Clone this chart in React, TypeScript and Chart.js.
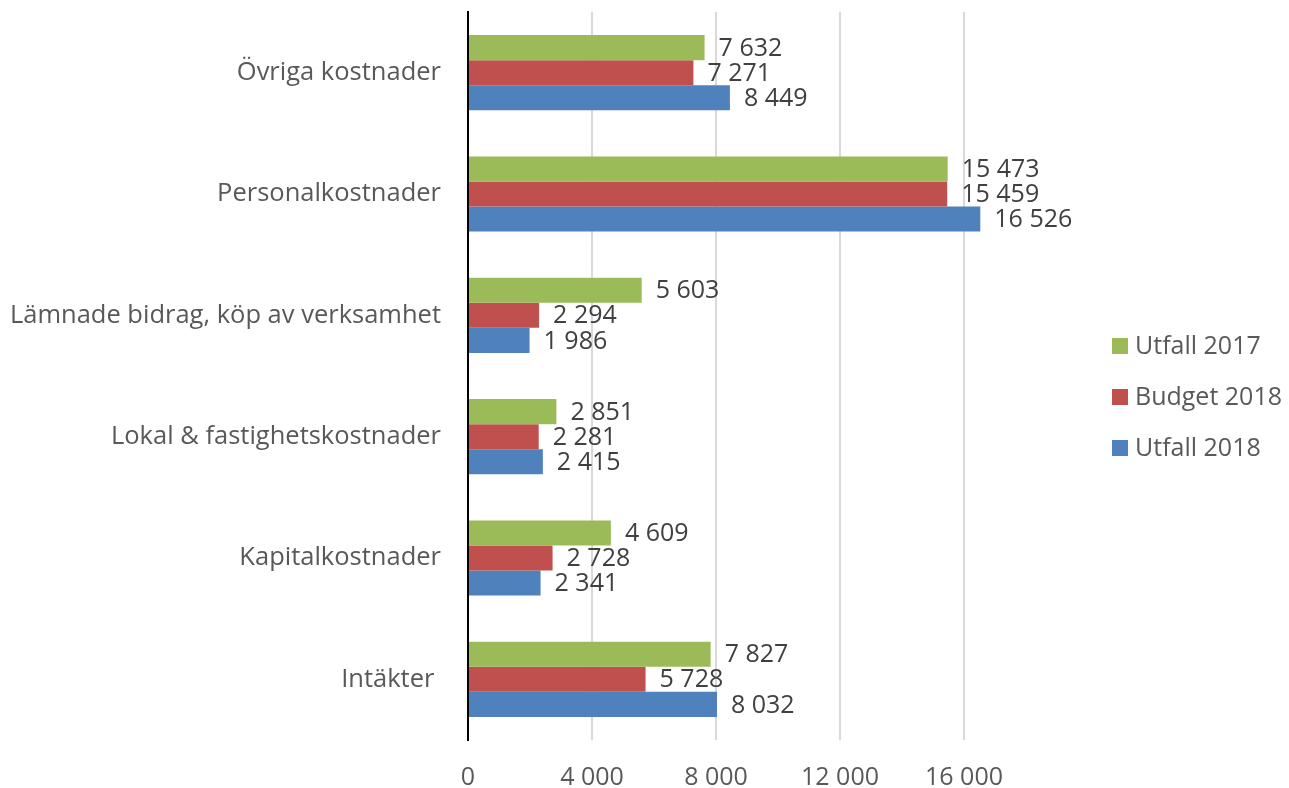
import React, { useEffect, useRef } from "react";
import { Chart, registerables } from "chart.js";

Chart.register(...registerables);

const categories = [
  "Övriga kostnader",
  "Personalkostnader",
  "Lämnade bidrag, köp av verksamhet",
  "Lokal & fastighetskostnader",
  "Kapitalkostnader",
  "Intäkter ",
];
const utfall2017 = [7632, 15473, 5603, 2851, 4609, 7827];
const budget2018 = [7271, 15459, 2294, 2281, 2728, 5728];
const utfall2018 = [8449, 16526, 1986, 2415, 2341, 8032];
const seriesNames = ["Utfall 2017", "Budget 2018", "Utfall 2018"];
const seriesColors = ["#9BBB59", "#C0504D", "#4F81BD"];
const xTicks = [0, 4000, 8000, 12000, 16000];

const FONT = "'Open Sans', sans-serif";
const FS = 25;

const fmt = (n: number) => String(n).replace(/\B(?=(\d{3})+(?!\d))/g, " ");

const dataLabels = {
  id: "dataLabels",
  afterDatasetsDraw(chart: any) {
    const ctx = chart.ctx;
    ctx.save();
    ctx.font = `${FS}px ${FONT}`;
    ctx.fillStyle = "#404040";
    ctx.textAlign = "left";
    ctx.textBaseline = "middle";
    chart.data.datasets.forEach((ds: any, i: number) => {
      const meta = chart.getDatasetMeta(i);
      meta.data.forEach((bar: any, j: number) => {
        ctx.fillText(fmt(ds.data[j]), bar.x + 14, bar.y + 1);
      });
    });
    ctx.restore();
  },
};

const customLegend = {
  id: "customLegend",
  afterDraw(chart: any) {
    const ctx = chart.ctx;
    ctx.save();
    ctx.font = `${FS}px ${FONT}`;
    ctx.textAlign = "left";
    ctx.textBaseline = "middle";
    const x = 1112;
    const y0 = 346;
    const gap = 51;
    chart.data.datasets.forEach((ds: any, i: number) => {
      const y = y0 + i * gap;
      ctx.fillStyle = ds.backgroundColor;
      ctx.fillRect(x, y - 8, 16, 16);
      ctx.fillStyle = "#595959";
      ctx.fillText(ds.label, x + 23, y + 1);
    });
    ctx.restore();
  },
};

export default function App() {
  const ref = useRef<HTMLCanvasElement>(null);
  useEffect(() => {
    if (!ref.current) return;
    const chart = new Chart(ref.current, {
      type: "bar",
      data: {
        labels: categories,
        datasets: [utfall2017, budget2018, utfall2018].map((d, i) => ({
          label: seriesNames[i],
          data: d,
          backgroundColor: seriesColors[i],
          borderWidth: 0,
          categoryPercentage: 0.62,
          barPercentage: 1,
        })),
      },
      options: {
        indexAxis: "y",
        animation: false,
        responsive: false,
        layout: { padding: { top: 12, right: 263, left: 0, bottom: 0 } },
        plugins: { legend: { display: false }, tooltip: { enabled: false } },
        scales: {
          x: {
            min: 0,
            max: 18000,
            afterBuildTicks: (scale: any) => {
              scale.ticks = xTicks.map((v) => ({ value: v }));
            },
            afterFit: (scale: any) => {
              scale.height = 48;
              scale.paddingLeft = 0;
              scale.paddingRight = 0;
            },
            grid: {
              color: (c: any) => (c.tick && c.tick.value === 0 ? "rgba(0,0,0,0)" : "#D9D9D9"),
              lineWidth: 2,
              drawTicks: false,
            },
            border: { display: false },
            ticks: {
              color: "#595959",
              font: { size: FS, family: FONT },
              padding: 23,
              callback: (v: any) => fmt(Number(v)),
            },
          },
          y: {
            afterFit: (scale: any) => {
              scale.width = 468;
              scale.paddingTop = 0;
              scale.paddingBottom = 0;
            },
            grid: { display: false, drawTicks: false },
            border: { display: true, color: "#000000", width: 2 },
            ticks: {
              color: "#595959",
              font: { size: 25.5, family: FONT },
              padding: 27,
            },
          },
        },
      },
      plugins: [dataLabels, customLegend],
    } as any);
    return () => chart.destroy();
  }, []);
  return (
    <div style={{ position: "absolute", left: 0, top: 0, width: 1289, height: 788, background: "#fff" }}>
      <canvas ref={ref} width={1289} height={788} style={{ display: "block" }} />
    </div>
  );
}
